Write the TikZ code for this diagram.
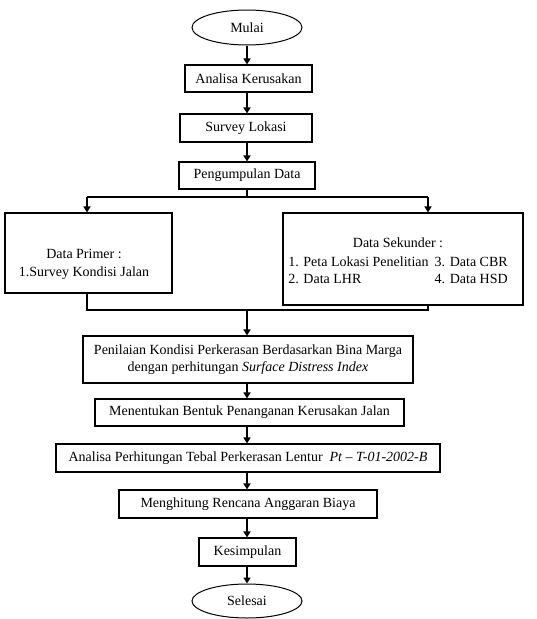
\documentclass[tikz,border=0pt]{standalone}
\usepackage{fontspec}
\setmainfont{Liberation Serif}
\usetikzlibrary{arrows.meta,shapes.geometric}
\begin{document}
\begin{tikzpicture}[x=1pt,y=-1pt,
  every node/.style={font=\fontsize{14}{16.5}\selectfont, inner sep=0pt},
  box/.style={draw, line width=1.1pt, rectangle, align=center},
  term/.style={draw, line width=1pt, ellipse, minimum width=110pt, minimum height=35pt},
  conn/.style={line width=2pt},
  arr/.style={line width=2pt, -{Triangle[width=7pt,length=6pt]}}]
\useasboundingbox (0,0) rectangle (537,619);
\node[term] (mulai) at (247,27.5) {Mulai};
\node[box, minimum width=127pt, minimum height=27pt] (anal) at (248.5,78.5) {Analisa Kerusakan};
\node[box, minimum width=132pt, minimum height=28pt] (surv) at (246,128) {Survey Lokasi};
\node[box, minimum width=136pt, minimum height=27pt] (peng) at (247,175.5) {Pengumpulan Data};
\node[box, minimum width=167pt, minimum height=80pt] (pbox) at (88.5,253) {};
\node (ptext) at (84,264) {\begin{tabular}{@{}c@{}}Data Primer :\\[1pt]1.Survey Kondisi Jalan\end{tabular}};
\node[box, minimum width=240pt, minimum height=92pt] (sbox) at (403,259) {};
\node (stext) at (398,262) {\begin{tabular}{@{}l@{\hspace{6pt}}r@{}}\multicolumn{2}{c}{Data Sekunder :}\\[3pt]1. Peta Lokasi Penelitian & 3. Data CBR\\2. Data LHR & 4. Data HSD\end{tabular}};
\node[box, minimum width=330pt, minimum height=47pt] (pen) at (248,359.5) {Penilaian Kondisi Perkerasan Berdasarkan Bina Marga\\dengan perhitungan \textit{Surface Distress Index}};
\node[box, minimum width=309pt, minimum height=27pt] (ment) at (249.5,412.5) {Menentukan Bentuk Penanganan Kerusakan Jalan};
\node[box, minimum width=384pt, minimum height=28pt] (aph) at (248,458) {Analisa Perhitungan Tebal Perkerasan Lentur\ \ \textit{Pt -- T-01-2002-B}};
\node[box, minimum width=258pt, minimum height=28pt] (meng) at (248,504) {Menghitung Rencana Anggaran Biaya};
\node[box, minimum width=97pt, minimum height=28pt] (kes) at (247.5,552) {Kesimpulan};
\node[term, minimum height=34pt] (sel) at (247,601) {Selesai};
\coordinate (split) at (247,197);
\coordinate (sL) at (87,197);
\coordinate (sR) at (428,197);
\coordinate (merge) at (247,310);
\coordinate (mL) at (87,310);
\coordinate (mR) at (428,310);
\draw[arr] (mulai.south -| split) -- (split |- anal.north);
\draw[arr] (anal.south -| split) -- (split |- surv.north);
\draw[arr] (surv.south -| split) -- (split |- peng.north);
\draw[conn] (peng.south -| split) -- (split);
\draw[conn] (sL) -- (sR);
\draw[arr] (sL) -- (sL |- pbox.north);
\draw[arr] (sR) -- (sR |- sbox.north);
\draw[conn] (pbox.south -| mL) -- (mL) -- (mR) -- (sbox.south -| mR);
\draw[arr] (merge) -- (merge |- pen.north);
\draw[arr] (pen.south -| split) -- (split |- ment.north);
\draw[arr] (ment.south -| split) -- (split |- aph.north);
\draw[arr] (aph.south -| split) -- (split |- meng.north);
\draw[arr] (meng.south -| split) -- (split |- kes.north);
\draw[arr] (kes.south -| split) -- (split |- sel.north);
\end{tikzpicture}
\end{document}
